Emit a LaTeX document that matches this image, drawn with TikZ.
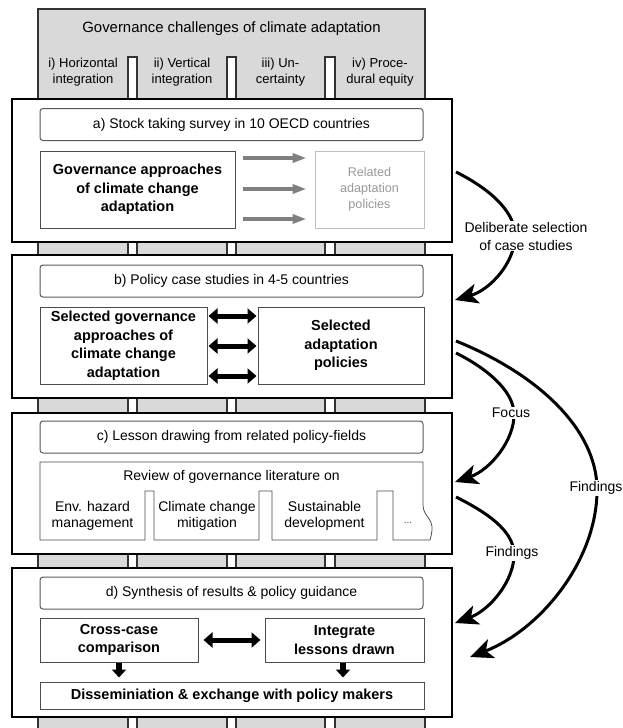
\documentclass[tikz,border=0pt]{standalone}
\usepackage{fontspec}
\setmainfont{Liberation Sans}
\usetikzlibrary{arrows.meta,calc}

\begin{document}
\begin{tikzpicture}[x=1pt,y=-1pt,
  font=\fontsize{14}{16}\selectfont,
  colbg/.style={draw=black!80,line width=1.4pt,fill=gray!30},
  pillar/.style={draw=black!80,line width=1.2pt,fill=white},
  panel/.style={draw=black,line width=1.8pt,fill=white,minimum width=440pt},
  header/.style={draw=black!65,line width=1pt,rounded corners=3pt,minimum width=383pt,minimum height=32pt},
  box/.style={draw=black!70,line width=1pt,fill=white,align=center,inner sep=2pt},
  boldtext/.style={font=\fontsize{14.5}{18.5}\selectfont\bfseries},
  collabel/.style={font=\fontsize{13}{16.5}\selectfont,align=center},
  grayarr/.style={draw=gray,line width=4pt,-{Triangle[length=14pt,width=9pt]}},
  dblarr/.style={line width=5pt,{Triangle[length=9pt,width=15pt]}-{Triangle[length=9pt,width=15pt]}},
  downarr/.style={line width=6pt,-{Triangle[length=8pt,width=14pt]}},
  bigarr/.style={line width=3pt,-{Stealth[length=23pt,width=20pt,inset=6pt]}},
  arrlabel/.style={fill=white,inner sep=1pt,align=center,font=\fontsize{14}{18}\selectfont}]
\useasboundingbox (0,0) rectangle (623,728);

  % Challenge columns in the background
  \draw[colbg] (38,9) rectangle (425,740);
  \foreach \x/\w in {128/9,227/9,325/10}
    \draw[pillar] (\x,57) rectangle ++(\w,690);
  \node[font=\fontsize{14.9}{17}\selectfont] (title) at (231.5,29)
    {Governance challenges of climate adaptation};
  \node[collabel] (c1) at (83,72) {i) Horizontal\\integration};
  \node[collabel] (c2) at (182,72) {ii) Vertical\\integration};
  \node[collabel] (c3) at (280.5,72) {iii) Un-\\certainty};
  \node[collabel] (c4) at (380,72) {iv) Proce-\\dural equity};

  % Panels
  \node[panel,minimum height=143pt] (pa) at (232,170.5) {};
  \node[panel,minimum height=143pt] (pb) at (232,326.5) {};
  \node[panel,minimum height=141pt] (pc) at (232,483.5) {};
  \node[panel,minimum height=149pt] (pd) at (232,642.5) {};

  % a) stock taking
  \node[header] (ha) at (231.5,124.5) {a) Stock taking survey in 10 OECD countries};
  \node[box,boldtext,minimum width=195pt,minimum height=77pt] (gov) at (137.5,189.5)
    {Governance approaches\\of climate change\\adaptation};
  \node[box,draw=gray!50,text=black!40,font=\fontsize{12.6}{16}\selectfont,
    minimum width=109pt,minimum height=77pt] (rel) at (369.5,189.5)
    {Related\\adaptation\\policies};
  \foreach \d in {-31.5,-0.5,29.5}
    \draw[grayarr] ($(gov.east)+(7,\d)$) -- ($(rel.west)+(-8,\d)$);

  % b) case studies
  \node[header] (hb) at (231.5,281) {b) Policy case studies in 4-5 countries};
  \node[box,boldtext,minimum width=167pt,minimum height=77pt] (selgov) at (123.5,345.5)
    {Selected governance\\approaches of\\climate change\\adaptation};
  \node[box,boldtext,minimum width=166pt,minimum height=77pt] (selpol) at (341,345.5)
    {Selected\\adaptation\\policies};
  \foreach \d in {-29.5,0.5,30.5}
    \draw[dblarr] ($(selgov.east)+(1,\d)$) -- ($(selpol.west)+(-1,\d)$);

  % c) lesson drawing
  \node[header] (hc) at (231.5,437) {c) Lesson drawing from related policy-fields};
  \draw[draw=black!70,line width=0.8pt] (40,462) -- (423,462) -- (423,505)
    .. controls (423,516) and (433,518) .. (432,530)
    .. controls (431.5,536) and (430,539) .. (430,540)
    -- (393,540) -- (393,491) -- (377,491) -- (377,540)
    -- (272,540) -- (272,491) -- (259,491) -- (259,540)
    -- (154,540) -- (154,491) -- (145,491) -- (145,540) -- (40,540) -- cycle;
  \node (rev) at (231.5,477) {Review of governance literature on};
  \node[align=center] (env) at (92.5,516) {Env. hazard\\management};
  \node[align=center] (mit) at (207,516) {Climate change\\mitigation};
  \node[align=center] (sus) at (324.5,516) {Sustainable\\development};
  \node[font=\fontsize{10}{12}\selectfont,text=black!70] (dots) at (408,523) {...};

  % d) synthesis
  \node[header] (hd) at (231.5,593) {d) Synthesis of results \& policy guidance};
  \node[box,boldtext,minimum width=158pt,minimum height=44pt] (cross) at (119,640)
    {Cross-case\\comparison};
  \node[box,boldtext,minimum width=159pt,minimum height=44pt] (integ) at (344.5,640)
    {Integrate\\lessons drawn};
  \node[box,boldtext,minimum width=384pt,minimum height=27pt] (diss) at (232,695.5)
    {Disseminiation \& exchange with policy makers};
  \draw[dblarr] ($(cross.east)+(5,0)$) -- ($(integ.west)+(-4,0)$);
  \coordinate (cs) at (cross.south);
  \coordinate (is) at ($(integ.south)+(-1.5,0)$);
  \coordinate (ct) at ($(cs |- diss.north)+(0,-4)$);
  \coordinate (it) at ($(is |- diss.north)+(0,-4)$);
  \draw[downarr] (cs) -- (ct);
  \draw[downarr] (is) -- (it);

  % Feedback arrows on the right
  \coordinate (s1) at (456,172); \coordinate (e1) at (455,300);
  \coordinate (s2) at (456,353); \coordinate (e2) at (455,482);
  \coordinate (s3) at (456,341); \coordinate (e3) at (470,657);
  \coordinate (s4) at (456,497); \coordinate (e4) at (455,623);
  \draw[bigarr] (s1) .. controls (488,188) and (514,210) .. (515,234)
    .. controls (516,262) and (490,290) .. (e1);
  \draw[bigarr] (s2) .. controls (486,368) and (513,390) .. (514,413)
    .. controls (515,440) and (490,470) .. (e2);
  \draw[bigarr] (s3) .. controls (540,375) and (596,430) .. (597,488)
    .. controls (598,560) and (540,630) .. (e3);
  \draw[bigarr] (s4) .. controls (486,512) and (513,530) .. (514,553)
    .. controls (515,580) and (490,610) .. (e4);
  \node[arrlabel] (lsel) at (526,236) {Deliberate selection\\of case studies};
  \node[arrlabel] (lfoc) at (511,413) {Focus};
  \node[arrlabel] (lfin) at (596,488) {Findings};
  \node[arrlabel] (lfin2) at (512,553) {Findings};
\end{tikzpicture}
\end{document}
